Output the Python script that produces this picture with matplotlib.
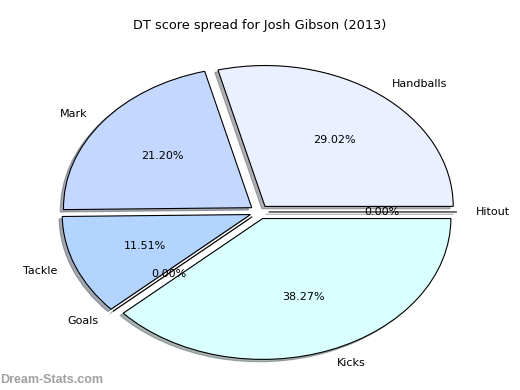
import matplotlib.pyplot as plt

labels = ['Handballs', 'Mark', 'Tackle', 'Goals', 'Kicks', 'Hitout']
values = [29.02, 21.20, 11.51, 0.00, 38.27, 0.00]
colors = ['#eaf0ff', '#c4d8ff', '#b3d4ff', '#c8e6ff', '#d9ffff', '#e6f0ff']
explode = [0.05] * len(values)

fig = plt.figure(figsize=(5.2, 3.9), dpi=100)
ax = fig.add_axes([0.046, 0.005, 0.905, 0.903])

wedges, texts, autotexts = ax.pie(
    values, labels=labels, colors=colors, explode=explode,
    autopct='%1.2f%%', startangle=0,
    shadow={'ox': -0.012, 'oy': -0.012, 'shade': 0.6},
    wedgeprops={'edgecolor': 'black', 'linewidth': 0.8},
    textprops={'fontsize': 8})
ax.set_aspect('auto')
ax.set_xlim(-1.25, 1.25)
ax.set_ylim(-1.25, 1.25)

fig.text(0.5, 1 - 25 / 390, 'DT score spread for Josh Gibson (2013)',
         ha='center', va='center', fontsize=9.3)
fig.text(0.0, 1 - 380 / 390, 'Dream-Stats.com', ha='left', va='center',
         fontsize=9, fontweight='bold', family='Liberation Sans',
         color='#a0a0a0')

plt.savefig('out.png', dpi=100)
